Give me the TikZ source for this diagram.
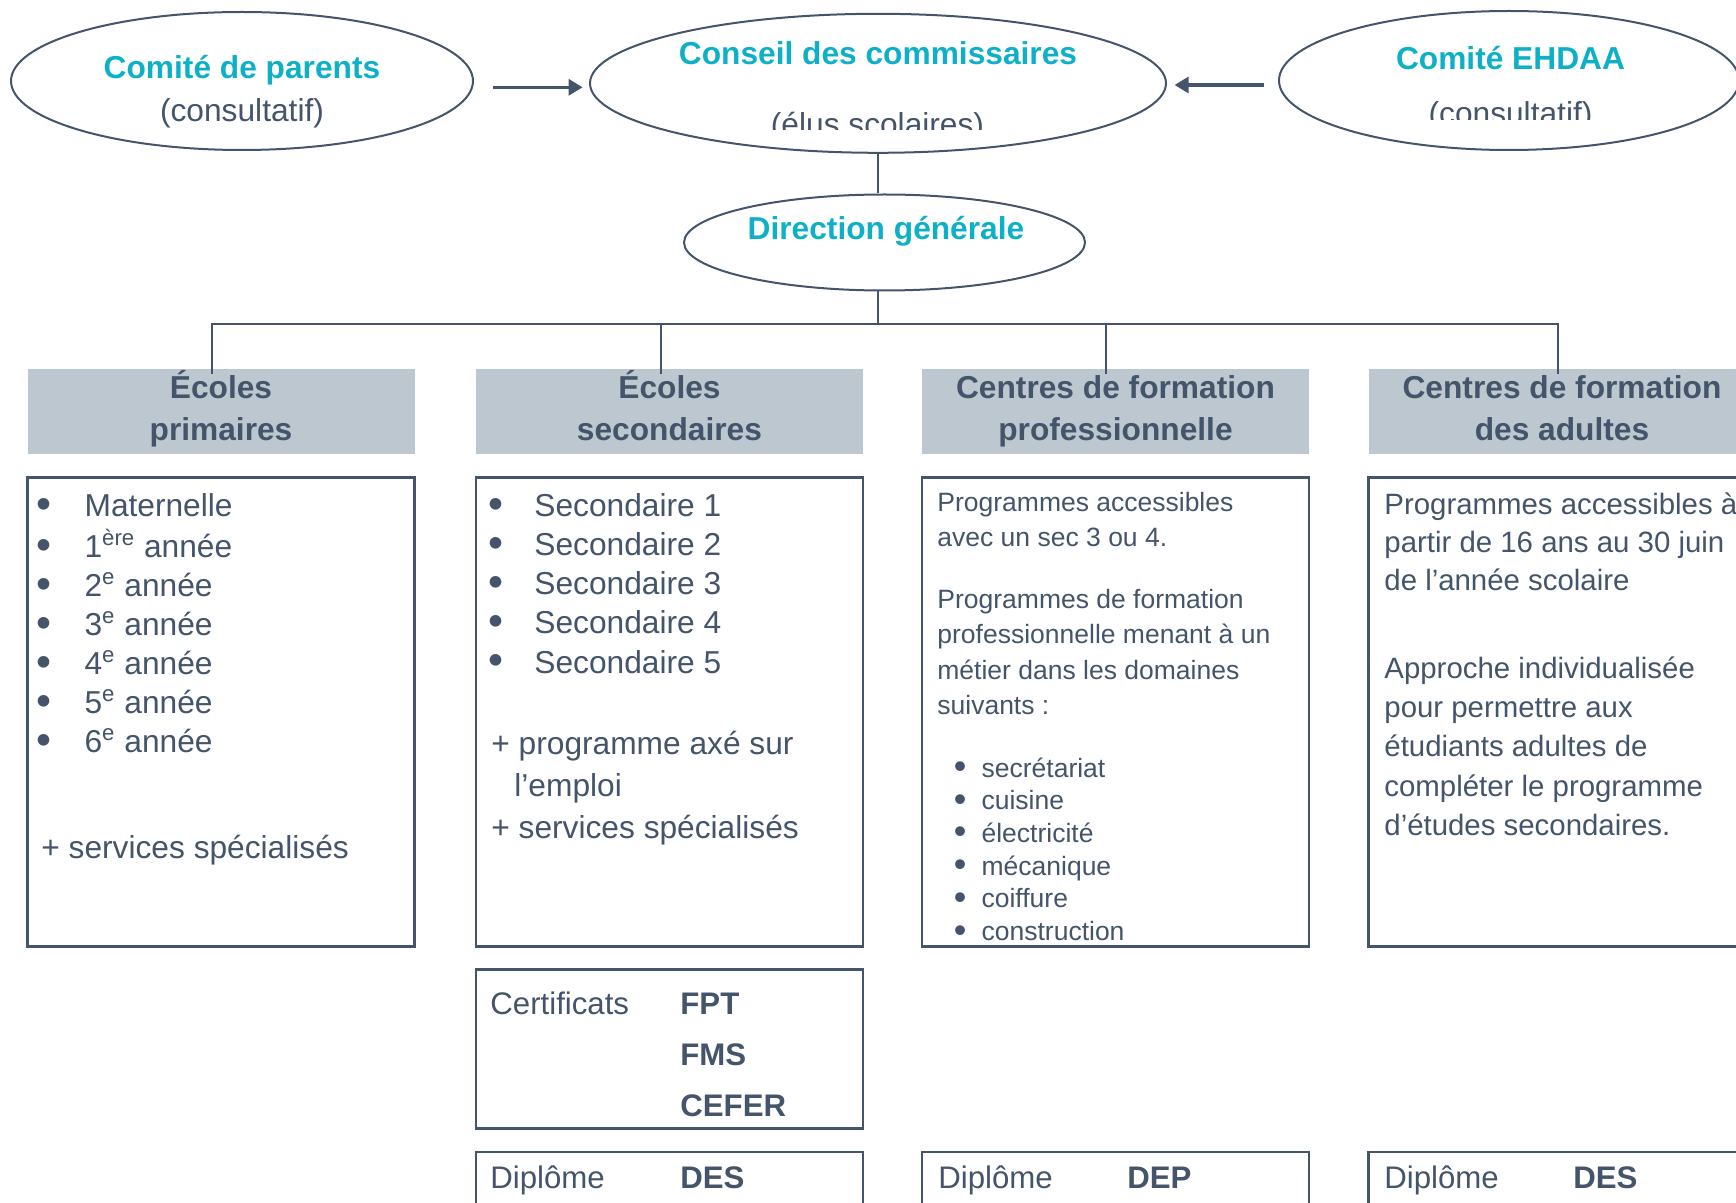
\documentclass[tikz,border=0pt]{standalone}
\usepackage{fontspec}
\setmainfont{Liberation Sans}
\usetikzlibrary{shapes.geometric,arrows.meta}
\definecolor{gristxt}{HTML}{44546A}
\definecolor{turquoise}{RGB}{14,176,200}
\definecolor{grisfond}{RGB}{189,199,208}
\newcommand\puce{\raisebox{-.06em}{\scalebox{1.35}{\textbullet}}}
\begin{document}
\begin{tikzpicture}
    [inner sep=0pt,x=0.5pt,y=-0.5pt,
     bulle/.style={ellipse,draw=gristxt,line width=1pt},
     titre/.style={anchor=base,text=turquoise,font=\fontsize{15.85}{19}\selectfont\bfseries},
     sous/.style={anchor=base,text=gristxt,font=\fontsize{15.85}{19}\selectfont},
     entete/.style={fill=grisfond,text=gristxt,align=center,minimum width=193.5pt,minimum height=42.6pt,
       font=\fontsize{15.85}{21}\selectfont\bfseries},
     cadre/.style={draw=gristxt,line width=1.3pt,minimum width=193.5pt},
     corps/.style={anchor=base west,text=gristxt},
     lien/.style={draw=gristxt,line width=1pt},
     fleche/.style={draw=gristxt,line width=1.6pt,-{Triangle[length=7pt,width=8pt]}}]
    \useasboundingbox (0,0) rectangle (1736,1203);
    \clip (0,0) rectangle (1736,1203);
    \node (parents) at (242, 81) [bulle,minimum width=231pt,minimum height=69pt] {};
    \node (conseil) at (878, 83.3) [bulle,minimum width=288pt,minimum height=69.5pt] {};
    \node (ehdaa) at (1509, 80.5) [bulle,minimum width=230pt,minimum height=69.5pt] {};
    \node (direction) at (884.5, 242.5) [bulle,minimum width=200.5pt,minimum height=48pt] {};
    \node (parents-titre) at (242, 78.5) [titre] {Comité de parents};
    \node (parents-sous) at (242, 121.3) [sous] {(consultatif)};
    \node (conseil-titre) at (878, 65) [titre] {Conseil des commissaires};
    \node (ehdaa-titre) at (1510.5, 69.3) [titre] {Comité EHDAA};
    \node (direction-titre) at (886, 240) [titre] {Direction générale};
    \begin{scope}
      \clip (590, 0) rectangle (1166, 130);
      \node (conseil-sous) at (877.5, 136) [sous] {(élus scolaires)};
    \end{scope}
    \begin{scope}
      \clip (1280, 0) rectangle (1736, 120);
      \node (ehdaa-sous) at (1510.5, 125) [sous] {(consultatif)};
    \end{scope}
    \coordinate (depart1) at (492.7, 87.3);
    \coordinate (depart2) at (1264.4, 85);
    \coordinate (bus) at (878, 324.3);
    \draw [fleche,shorten >=3.2pt] (depart1) to (depart1 -| conseil.west);
    \draw [fleche,shorten >=3.8pt] (depart2) to (depart2 -| conseil.east);
    \draw [lien] (conseil.south) to (conseil.south |- direction.north);
    \draw [lien] (conseil.south |- direction.south) to (bus);
    \node (hprim) at (221, 411.4) [entete] {\strut Écoles\\primaires\strut};
    \node (hsec) at (669.5, 411.4) [entete] {\strut Écoles\\secondaires\strut};
    \node (hpro) at (1115.5, 411.4) [entete] {\strut Centres de formation\\professionnelle\strut};
    \node (hadu) at (1562, 411.4) [entete] {\strut Centres de formation\\des adultes\strut};
    \foreach \h/\dx in {hprim/-4.75pt,hsec/-4.25pt,hpro/-4.75pt,hadu/-2pt}
      \draw [lien] (bus) -| ([xshift=\dx,yshift=-3pt]\h.north);
    \node (cprim) at (221, 712) [cadre,minimum height=234.7pt] {};
    \node (csec) at (669.5, 712) [cadre,minimum height=234.7pt] {};
    \node (cpro) at (1115.5, 712) [cadre,minimum height=234.7pt] {};
    \node (cadu) at (1562, 712) [cadre,minimum height=234.7pt] {};
    \node (certif) at (669.5, 1048.8) [cadre,minimum height=79.5pt] {};
    \node (dsec) at (669.5, 1210) [cadre,minimum height=58pt] {};
    \node (dpro) at (1115.5, 1210) [cadre,minimum height=58pt] {};
    \node (dadu) at (1562, 1210) [cadre,minimum height=58pt] {};
    \node (tprim) at (36.5, 517) [corps,font=\fontsize{15.85}{19.5}\selectfont]
      {\begin{tabular}[t]{@{}l@{}}
        \makebox[23.85pt][l]{\puce}Maternelle\\
        \makebox[23.85pt][l]{\puce}1\textsuperscript{ère} année\\
        \makebox[23.85pt][l]{\puce}2\textsuperscript{e} année\\
        \makebox[23.85pt][l]{\puce}3\textsuperscript{e} année\\
        \makebox[23.85pt][l]{\puce}4\textsuperscript{e} année\\
        \makebox[23.85pt][l]{\puce}5\textsuperscript{e} année\\
        \makebox[23.85pt][l]{\puce}6\textsuperscript{e} année
      \end{tabular}};
    \node (tprim-plus) at (41, 858) [corps,font=\fontsize{15.85}{19.5}\selectfont] {+ services spécialisés};
    \node (tsec) at (488.5, 517) [corps,font=\fontsize{15.85}{19.5}\selectfont]
      {\begin{tabular}[t]{@{}l@{}}
        \makebox[22.75pt][l]{\puce}Secondaire 1\\
        \makebox[22.75pt][l]{\puce}Secondaire 2\\
        \makebox[22.75pt][l]{\puce}Secondaire 3\\
        \makebox[22.75pt][l]{\puce}Secondaire 4\\
        \makebox[22.75pt][l]{\puce}Secondaire 5
      \end{tabular}};
    \node (tsec-plus) at (491, 754) [corps,font=\fontsize{15.85}{21}\selectfont]
      {\begin{tabular}[t]{@{}l@{}}
        + programme axé sur\\
        \hspace{11.5pt}l’emploi\\
        + services spécialisés
      \end{tabular}};
    \node (tpro1) at (937, 511.5) [corps,font=\fontsize{13.25}{17.7}\selectfont]
      {\begin{tabular}[t]{@{}l@{}}
        Programmes accessibles\\
        avec un sec 3 ou 4.
      \end{tabular}};
    \node (tpro2) at (937, 608.5) [corps,font=\fontsize{13.25}{17.7}\selectfont]
      {\begin{tabular}[t]{@{}l@{}}
        Programmes de formation\\
        professionnelle menant à un\\
        métier dans les domaines\\
        suivants :
      \end{tabular}};
    \node (tpro3) at (953.5, 777) [corps,font=\fontsize{13.25}{16.35}\selectfont]
      {\begin{tabular}[t]{@{}l@{}}
        \makebox[13.85pt][l]{\puce}secrétariat\\
        \makebox[13.85pt][l]{\puce}cuisine\\
        \makebox[13.85pt][l]{\puce}électricité\\
        \makebox[13.85pt][l]{\puce}mécanique\\
        \makebox[13.85pt][l]{\puce}coiffure\\
        \makebox[13.85pt][l]{\puce}construction
      \end{tabular}};
    \node (tadu1) at (1384, 514.5) [corps,font=\fontsize{14.7}{19.1}\selectfont]
      {\begin{tabular}[t]{@{}l@{}}
        Programmes accessibles à\\
        partir de 16 ans au 30 juin\\
        de l’année scolaire
      \end{tabular}};
    \node (tadu2) at (1384, 678.5) [corps,font=\fontsize{14.7}{19.6}\selectfont]
      {\begin{tabular}[t]{@{}l@{}}
        Approche individualisée\\
        pour permettre aux\\
        étudiants adultes de\\
        compléter le programme\\
        d’études secondaires.
      \end{tabular}};
    \node (tcertif) at (490, 1014) [corps,font=\fontsize{15.6}{25.6}\selectfont]
      {\begin{tabular}[t]{@{}l@{}}
        \makebox[95pt][l]{Certificats}\textbf{FPT}\\
        \makebox[95pt][l]{}\textbf{FMS}\\
        \makebox[95pt][l]{}\textbf{CEFER}
      \end{tabular}};
    \node (tdsec) at (490, 1188) [corps,font=\fontsize{15.6}{19}\selectfont]
      {\makebox[95pt][l]{Diplôme}\textbf{DES}};
    \node (tdpro) at (938, 1188) [corps,font=\fontsize{15.6}{19}\selectfont]
      {\makebox[94.5pt][l]{Diplôme}\textbf{DEP}};
    \node (tdadu) at (1384, 1188) [corps,font=\fontsize{15.6}{19}\selectfont]
      {\makebox[94.5pt][l]{Diplôme}\textbf{DES}};
  \end{tikzpicture}
\end{document}
